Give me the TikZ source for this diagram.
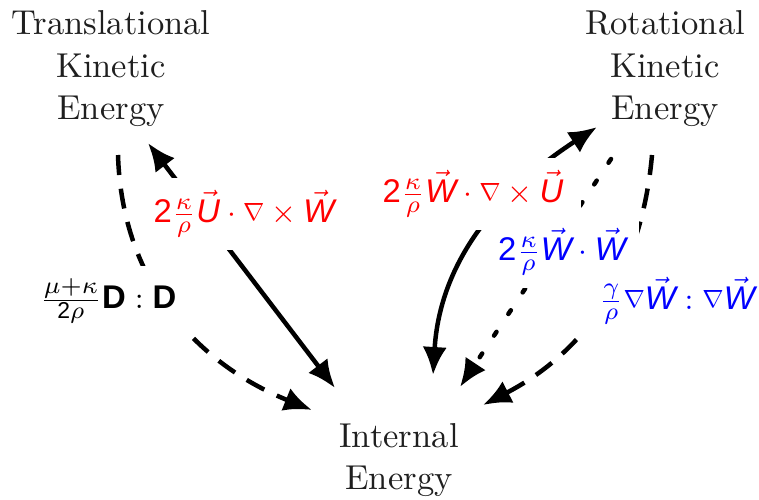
\documentclass[tikz,border=0pt]{standalone}
\usepackage{amsmath}
\usepackage{graphicx}
\usepackage{fontspec}
\setmainfont{lmroman10-regular.otf}
\setsansfont{Liberation Sans}
\usetikzlibrary{arrows.meta}
\newcommand{\svec}[1]{\vec{\text{\sffamily\itshape #1}}}
\newcommand{\sfn}[1]{\text{\sffamily #1}}
\newcommand{\sbD}{\text{\sffamily\bfseries D}}
\newcommand{\snabla}{\mathord{\raisebox{0.05em}{\scalebox{0.8}{$\nabla$}}}}
\definecolor{termred}{RGB}{255,0,0}
\definecolor{termblue}{RGB}{0,0,255}
\begin{document}
\begin{tikzpicture}[x=0.2894pt,y=-0.2894pt,
  energy/.style={font=\fontsize{10}{12.3}\selectfont, align=center, text=black!88, inner sep=0pt},
  term/.style={font=\fontsize{9.5}{11.5}\selectfont, fill=white, inner sep=3.7pt},
  flow/.style={line width=1.3pt},
  oneway/.style={flow, -{Latex[length=8.1pt,width=7pt]}},
  twoway/.style={flow, {Latex[length=8.1pt,width=7pt]}-{Latex[length=8.1pt,width=7pt]}},
  dashline/.style={dash pattern=on 5.8pt off 4pt},
  dotline/.style={dash pattern=on 1.3pt off 6.2pt, line cap=round},
]
\useasboundingbox (0,0) rectangle (759,499);

\node[energy] (tke) at (111,69) {Translational\\Kinetic\\Energy};
\node[energy] (rke) at (665,69) {Rotational\\Kinetic\\Energy};
\node[energy] (ie) at (399,460) {Internal\\Energy};

\coordinate (a1) at (148,143);
\coordinate (a2) at (335,388);
\coordinate (b1) at (118,155);
\coordinate (b2) at (312,410);
\coordinate (c1) at (597,127);
\coordinate (c2) at (433,375);
\coordinate (d1) at (611,159);
\coordinate (d2) at (460,387);
\coordinate (e1) at (652,155);
\coordinate (e2) at (483,405);

\draw[twoway] (a1) -- (a2);
\draw[oneway, dashline] (b1) .. controls (122,285) and (200,365) .. (b2);
\draw[twoway] (c2) .. controls (440,260) and (500,190) .. (c1);
\draw[oneway, dotline] (d1) -- (d2);
\draw[oneway, dashline] (e1) .. controls (640,290) and (570,360) .. (e2);

\node[term, text=termred] (t1) at (244,214) {$\sfn{2}\frac{\kappa}{\rho}\svec{U}\cdot\snabla\times\svec{W}$};
\node[term, text=termred, inner xsep=5pt] (t2) at (473,194) {$\sfn{2}\frac{\kappa}{\rho}\svec{W}\cdot\snabla\times\svec{U}$};
\node[term, text=termblue] (t3) at (562,252) {$\sfn{2}\frac{\kappa}{\rho}\svec{W}\cdot\svec{W}$};
\node[term, text=termblue, inner sep=4.6pt] (t4) at (677,301) {$\frac{\gamma}{\rho}\snabla\svec{W}:\snabla\svec{W}$};
\node[term, text=black, inner xsep=7pt] (t5) at (108,301) {$\frac{\mu+\kappa}{\sfn{2}\rho}\sbD:\sbD$};
\end{tikzpicture}
\end{document}
